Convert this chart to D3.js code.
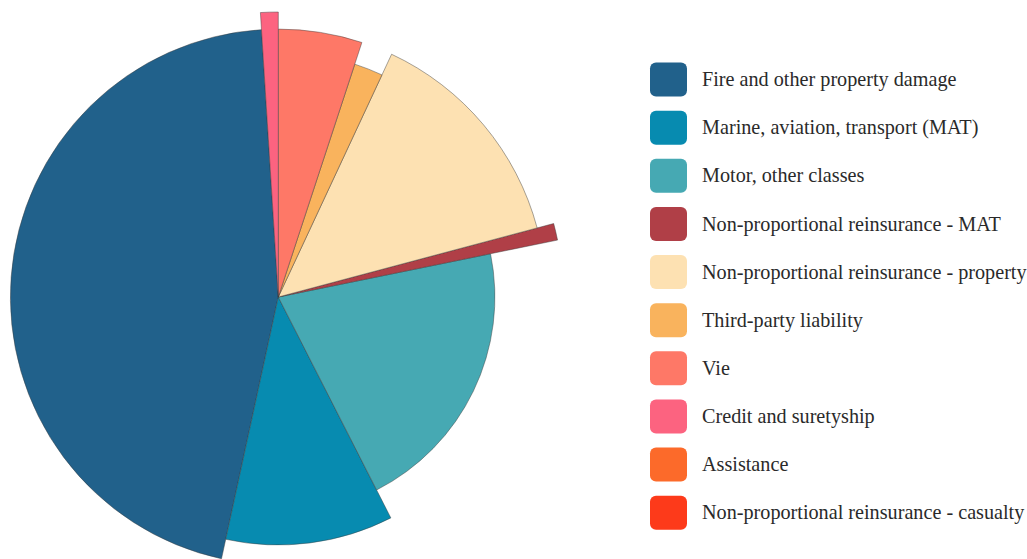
<!DOCTYPE html>
<html>
<head>
<meta charset="utf-8">
<script src="https://cdn.jsdelivr.net/npm/d3@7/dist/d3.min.js"></script>
<style>
  html, body { margin: 0; padding: 0; background: #ffffff; }
  svg { display: block; }
</style>
</head>
<body>
<svg id="chart" width="1027" height="559"></svg>
<script>
// ---- data ----
const categories = [
  "Fire and other property damage",
  "Marine, aviation, transport (MAT)",
  "Motor, other classes",
  "Non-proportional reinsurance - MAT",
  "Non-proportional reinsurance - property",
  "Third-party liability",
  "Vie",
  "Credit and suretyship",
  "Assistance",
  "Non-proportional reinsurance - casualty"
];
// share of total (%) -> slice angle
const shares = [45.6, 10.9, 20.7, 0.95, 13.9, 1.9, 5.05, 1.0, 0, 0];
// second metric (index, 0-100) -> slice radius
const radiusValues = [94, 87, 76, 100, 94, 86, 94, 100, 0, 0];
const colors = [
  "#21618b", "#078bb0", "#46a9b3", "#b03f47", "#fde1b2",
  "#f9b35d", "#fe7867", "#fc6380", "#fc6a2a", "#fd3a1a"
];

// ---- layout ----
const svg = d3.select("#chart");
const cx = 278.3, cy = 297;
const maxR = 285;
const startDeg = -3.6;

const data = categories.map((c, i) => ({
  name: c, share: shares[i], rv: radiusValues[i], color: colors[i]
}));

const rScale = d3.scaleLinear().domain([0, 100]).range([0, maxR]);

const pie = d3.pie()
  .sort(null)
  .value(d => d.share)
  .startAngle(startDeg * Math.PI / 180)
  .endAngle((startDeg - 360) * Math.PI / 180);

const arcs = pie(data);

const arc = d3.arc()
  .innerRadius(0)
  .outerRadius(d => rScale(d.data.rv));

const g = svg.append("g").attr("transform", `translate(${cx},${cy})`);
g.selectAll("path")
  .data(arcs.filter(d => d.data.share > 0))
  .join("path")
  .attr("d", arc)
  .attr("fill", d => d.data.color)
  .attr("stroke", "#3a3a3a")
  .attr("stroke-opacity", 0.75)
  .attr("stroke-width", 0.6)
  .attr("stroke-linejoin", "round");

// ---- legend ----
const legendY = d3.scalePoint()
  .domain(categories)
  .range([79.5, 512.7]);

const legend = svg.append("g");
const items = legend.selectAll("g")
  .data(data)
  .join("g")
  .attr("transform", d => `translate(650,${legendY(d.name)})`);

items.append("rect")
  .attr("x", 0).attr("y", -17)
  .attr("width", 37).attr("height", 34)
  .attr("rx", 6).attr("ry", 6)
  .attr("fill", d => d.color);

items.append("text")
  .attr("x", 52)
  .attr("y", 0)
  .attr("dy", "0.33em")
  .attr("font-family", "'Liberation Serif', 'DejaVu Serif', serif")
  .attr("font-size", 20.2)
  .attr("fill", "#2a2a2a")
  .text(d => d.name);
</script>
</body>
</html>
